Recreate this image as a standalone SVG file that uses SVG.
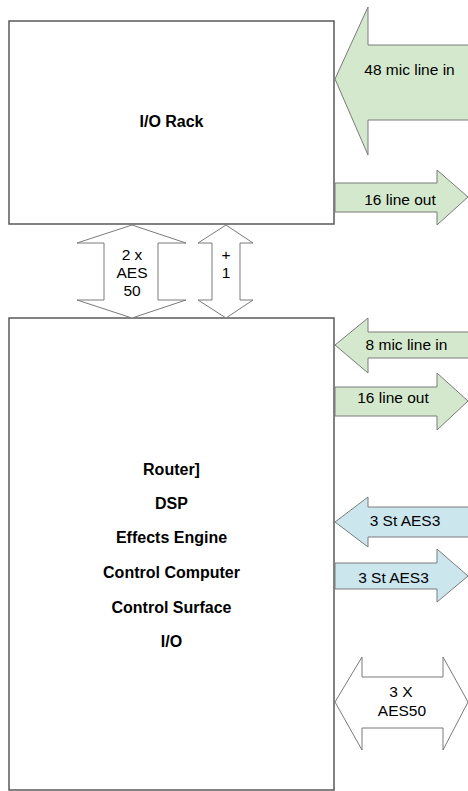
<svg xmlns="http://www.w3.org/2000/svg" width="468" height="791" viewBox="0 0 468 791">
<style>
.box{fill:#fff;stroke:#595959;stroke-width:1.5}
.g{fill:#d4e8cd;stroke:#7a7a7a;stroke-width:1}
.b{fill:#cce6ee;stroke:#7a7a7a;stroke-width:1}
.w{fill:#fff;stroke:#7a7a7a;stroke-width:1}
.t{font-family:"Liberation Sans",Arial,sans-serif;font-size:15.5px;fill:#000;text-anchor:middle}
.bt{font-family:"Liberation Sans",Arial,sans-serif;font-size:16px;font-weight:bold;fill:#000;text-anchor:middle}
</style>
<rect width="468" height="791" fill="#fff"/>
<g id="io-rack">
<rect class="box" x="9" y="21" width="325" height="203"/>
<text class="bt" x="171.5" y="127">I/O Rack</text>
</g>
<g id="main-unit">
<rect class="box" x="9" y="318" width="325" height="472"/>
<text class="bt" x="171.5" y="475">Router]</text>
<text class="bt" x="171.5" y="509">DSP</text>
<text class="bt" x="171.5" y="543">Effects Engine</text>
<text class="bt" x="171.5" y="578">Control Computer</text>
<text class="bt" x="171.5" y="613">Control Surface</text>
<text class="bt" x="171.5" y="647">I/O</text>
</g>
<g id="connectors">
<g id="mic48-in">
<polygon class="g" points="470,45 368,45 368,7 335,79 368,155 368,120 470,120"/>
<text class="t" x="409.5" y="75">48 mic line in</text>
</g>
<g id="line16-out-top">
<polygon class="g" points="335,183 437,183 437,170 468,197 437,225 437,212 335,212"/>
<text class="t" x="400" y="205">16 line out</text>
</g>
<g id="aes50-2x">
<polygon class="w" points="132,225 186,243 158,243 158,300 186,300 132,318 77,300 104,300 104,243 77,243"/>
<text class="t" x="132" y="260">2 x</text>
<text class="t" x="132" y="278">AES</text>
<text class="t" x="132" y="296">50</text>
</g>
<g id="plus1">
<polygon class="w" points="226,225 253,243 240,243 240,300 253,300 226,318 198,300 212,300 212,243 198,243"/>
<text class="t" x="226" y="260">+</text>
<text class="t" x="226" y="278">1</text>
</g>
<g id="mic8-in">
<polygon class="g" points="470,332 368,332 368,318 335,345 368,373 368,358 470,358"/>
<text class="t" x="406.5" y="350">8 mic line in</text>
</g>
<g id="line16-out">
<polygon class="g" points="335,387 437,387 437,373 468,401 437,430 437,416 335,416"/>
<text class="t" x="393" y="403">16 line out</text>
</g>
<g id="aes3-in">
<polygon class="b" points="470,507 368,507 368,497 335,522 368,547 368,537 470,537"/>
<text class="t" x="405" y="526">3 St AES3</text>
</g>
<g id="aes3-out">
<polygon class="b" points="335,563 437,563 437,549 468,576 437,602 437,589 335,589"/>
<text class="t" x="393.5" y="583">3 St AES3</text>
</g>
<g id="aes50-3x">
<polygon class="w" points="335,702 362,657 362,677 443,677 443,657 468,702 443,750 443,728 362,728 362,750"/>
<text class="t" x="401" y="697">3 X</text>
<text class="t" x="402" y="716">AES50</text>
</g>
</g>
</svg>
